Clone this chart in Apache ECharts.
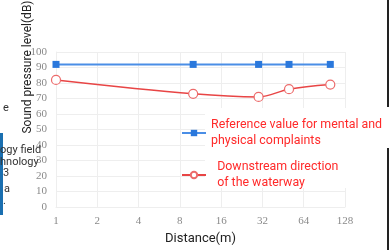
<html>
<head>
<meta charset="utf-8">
<script src="https://cdn.jsdelivr.net/npm/echarts@6/dist/echarts.min.js"></script>
<style>
  html, body { margin: 0; padding: 0; background: #fff; }
  #main { width: 390px; height: 250px; }
</style>
</head>
<body>
<div id="main"></div>
<script>
// distance (m) and sound pressure level (dB)
var distances = [1, 10, 30, 50, 100];
var referenceValues = [92, 92, 92, 92, 92];
var downstreamValues = [82, 73, 71, 76, 79];
var seriesNames = ['Reference value for mental and\nphysical complaints', '  Downstream direction\n  of the waterway'];

function pairs(xs, ys) {
    return xs.map(function (x, i) { return [x, ys[i]]; });
}

var chart = echarts.init(document.getElementById('main'));

chart.setOption({
    animation: false,
    backgroundColor: '#fff',
    textStyle: { fontFamily: 'Liberation Serif' },
    grid: { left: 56, right: 45, top: 52, bottom: 42 },
    xAxis: {
        type: 'log',
        logBase: 2,
        min: 1,
        max: 128,
        name: 'Distance(m)',
        nameLocation: 'middle',
        nameGap: 25,
        nameTextStyle: { fontFamily: 'Roboto', fontSize: 13, color: '#222' },
        axisLine: { lineStyle: { color: '#eeeeee' } },
        axisTick: { show: false },
        axisLabel: { margin: 9, fontFamily: 'Liberation Serif', fontSize: 11, color: '#8a8a8a' },
        splitLine: { show: true, lineStyle: { color: '#eeeeee' } }
    },
    yAxis: {
        type: 'value',
        min: 0,
        max: 100,
        interval: 10,
        axisLine: { show: true, lineStyle: { color: '#eeeeee' } },
        axisTick: { show: false },
        axisLabel: { margin: 9, fontFamily: 'Liberation Serif', fontSize: 11, color: '#8a8a8a' },
        splitLine: { lineStyle: { color: '#eeeeee' } }
    },
    legend: {
        orient: 'vertical',
        left: 176,
        top: 112,
        z: 10,
        itemWidth: 24,
        itemHeight: 8,
        itemGap: 10,
        textStyle: { color: '#ff2a2a', fontFamily: 'Roboto', fontSize: 12.4, lineHeight: 16 },
        data: seriesNames
    },
    graphic: [
        { type: 'rect', z: 5, shape: { x: 205, y: 108, width: 185, height: 40 }, style: { fill: '#fff' } },
        { type: 'rect', z: 5, shape: { x: 205, y: 148, width: 181, height: 40 }, style: { fill: '#fff' } },
        { type: 'rect', z: 6, shape: { x: 387, y: 0, width: 2, height: 107 }, style: { fill: '#222' } },
        { type: 'rect', z: 6, shape: { x: 387, y: 148, width: 2, height: 102 }, style: { fill: '#222' } },
        { type: 'rect', z: 6, shape: { x: 0, y: 133, width: 3, height: 82 }, style: { fill: '#1a6fb0' } },
        {
            type: 'text', z: 6, x: 28, y: 67, rotation: Math.PI / 2,
            style: { text: 'Sound pressure level(dB)', font: '12px Roboto', fill: '#222',
                     textAlign: 'center', textVerticalAlign: 'middle' }
        },
        { type: 'text', z: 6, x: 3, y: 108, style: { text: 'e', font: '11px Roboto', fill: '#333', textVerticalAlign: 'middle' } },
        { type: 'text', z: 6, x: 0, y: 150, style: { text: 'ogy field', font: '11px Roboto', fill: '#333', textVerticalAlign: 'middle' } },
        { type: 'text', z: 6, x: 0, y: 162, style: { text: 'hnology', font: '11px Roboto', fill: '#333', textVerticalAlign: 'middle' } },
        { type: 'text', z: 6, x: 3, y: 173, style: { text: '3', font: '11px Roboto', fill: '#333', textVerticalAlign: 'middle' } },
        { type: 'text', z: 6, x: 4, y: 189, style: { text: 'a', font: '11px Roboto', fill: '#333', textVerticalAlign: 'middle' } },
        { type: 'text', z: 6, x: 3, y: 201, style: { text: '.', font: '11px Roboto', fill: '#333', textVerticalAlign: 'middle' } }
    ],
    series: [
        {
            name: seriesNames[0],
            type: 'line',
            data: pairs(distances, referenceValues),
            symbol: 'rect',
            symbolSize: 7,
            color: '#2a78dc',
            lineStyle: { width: 2, color: '#4a8ee6' },
            itemStyle: { color: '#2a78dc' }
        },
        {
            name: seriesNames[1],
            type: 'line',
            data: pairs(distances, downstreamValues),
            smooth: 0.35,
            symbol: 'circle',
            symbolSize: 9,
            showAllSymbol: true,
            color: '#e84545',
            lineStyle: { width: 1.5, color: '#e84545' },
            itemStyle: { color: '#fff', borderColor: '#ec6b6b', borderWidth: 1.2 }
        }
    ]
});
</script>
</body>
</html>
